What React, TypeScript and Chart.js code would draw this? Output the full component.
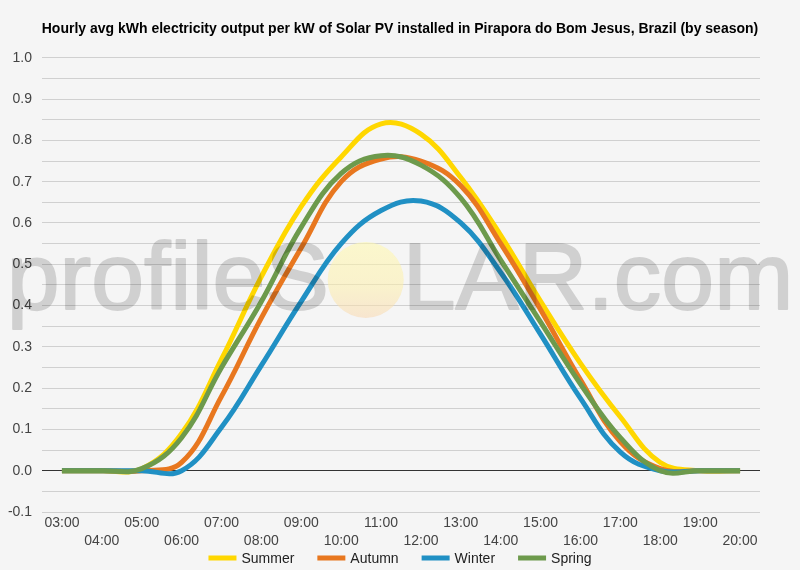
import React, { useEffect, useRef } from "react";
import { Chart, registerables } from "chart.js";

Chart.register(...registerables);

// Hour-of-day categories
const hours = [
  "03:00", "04:00", "05:00", "06:00", "07:00", "08:00", "09:00", "10:00", "11:00",
  "12:00", "13:00", "14:00", "15:00", "16:00", "17:00", "18:00", "19:00", "20:00",
];

// Average kWh output per kW installed, per season
const summer = [0, 0, 0.005, 0.09, 0.27, 0.47, 0.64, 0.76, 0.84, 0.815, 0.71, 0.57, 0.41, 0.26, 0.13, 0.02, 0, 0];
const autumn = [0, 0, 0, 0.02, 0.18, 0.37, 0.54, 0.70, 0.755, 0.75, 0.69, 0.55, 0.39, 0.22, 0.07, 0.005, 0, 0];
const winter = [0, 0, 0, 0, 0.105, 0.255, 0.41, 0.55, 0.63, 0.653, 0.60, 0.48, 0.33, 0.175, 0.045, 0, 0, 0];
const spring = [0, 0, 0.005, 0.08, 0.25, 0.41, 0.59, 0.72, 0.763, 0.74, 0.66, 0.51, 0.36, 0.21, 0.08, 0, 0, 0];

const seriesNames = ["Summer", "Autumn", "Winter", "Spring"];
const seriesColors = ["#FFD700", "#E8771F", "#2090C4", "#6D9A4C"];
const seriesData = [summer, autumn, winter, spring];

const titleText =
  "Hourly avg kWh electricity output per kW of Solar PV installed in Pirapora do Bom Jesus, Brazil (by season)";

const FONT = "Arial, 'Liberation Sans', sans-serif";

// Faint site watermark drawn across the plot, with a pale sun in place of the "O"
const watermarkPlugin = {
  id: "watermark",
  afterDatasetsDraw(chart: Chart) {
    const ctx = chart.ctx;
    const W = chart.width;
    const H = chart.height;
    const off = document.createElement("canvas");
    off.width = W;
    off.height = H;
    const o = off.getContext("2d");
    if (!o) return;
    const size = 95;
    o.font = `${size}px ${FONT}`;
    o.textBaseline = "alphabetic";
    const left = "profileS";
    const right = "LAR.com";
    const wl = o.measureText(left).width;
    const wo = o.measureText("O").width;
    const wr = o.measureText(right).width;
    const total = wl + wo + wr;
    const x0 = W / 2 - total / 2;
    const base = 309;
    o.fillStyle = "#000";
    o.strokeStyle = "#000";
    o.lineWidth = 2;
    o.lineJoin = "round";
    o.fillText(left, x0, base);
    o.strokeText(left, x0, base);
    o.fillText(right, x0 + wl + wo, base);
    o.strokeText(right, x0 + wl + wo, base);

    ctx.save();
    ctx.globalAlpha = 0.15;
    ctx.drawImage(off, 0, 0);
    ctx.restore();

    const cx = x0 + wl + wo / 2;
    const cy = base - 29;
    const r = 38;
    ctx.save();
    const g = ctx.createLinearGradient(0, cy - r, 0, cy + r);
    g.addColorStop(0, "rgba(255,248,170,0.55)");
    g.addColorStop(0.6, "rgba(252,238,170,0.55)");
    g.addColorStop(1, "rgba(248,215,175,0.55)");
    ctx.fillStyle = g;
    ctx.beginPath();
    ctx.arc(cx, cy, r, 0, Math.PI * 2);
    ctx.fill();
    ctx.restore();
  },
};

// Legend row under the axis: short thick swatch followed by the series name
const legendPlugin = {
  id: "bottomLegend",
  afterDraw(chart: Chart) {
    const ctx = chart.ctx;
    ctx.save();
    ctx.font = `14px ${FONT}`;
    ctx.textBaseline = "middle";
    const boxW = 28;
    const boxH = 5;
    const gapText = 5;
    const gapItem = 23;
    const items = chart.data.datasets.map((ds: any) => ({
      text: ds.label as string,
      color: ds.borderColor as string,
      w: boxW + gapText + ctx.measureText(ds.label).width,
    }));
    const total = items.reduce((s, it) => s + it.w, 0) + gapItem * (items.length - 1);
    let x = chart.width / 2 - total / 2;
    const y = 558;
    for (const it of items) {
      ctx.fillStyle = it.color;
      ctx.fillRect(x, y - boxH / 2, boxW, boxH);
      ctx.fillStyle = "#222";
      ctx.fillText(it.text, x + boxW + gapText, y + 1);
      x += it.w + gapItem;
    }
    ctx.restore();
  },
};

export default function App() {
  const canvasRef = useRef<HTMLCanvasElement | null>(null);

  useEffect(() => {
    const canvas = canvasRef.current;
    if (!canvas) return;
    const chart = new Chart(canvas, {
      type: "line",
      data: {
        labels: hours,
        datasets: seriesNames.map((name, i) => ({
          label: name,
          data: seriesData[i],
          borderColor: seriesColors[i],
          backgroundColor: seriesColors[i],
          borderWidth: 5,
          pointRadius: 0,
          tension: 0.4,
          fill: false,
          order: seriesNames.length - i,
        })),
      },
      options: {
        animation: false,
        responsive: false,
        maintainAspectRatio: false,
        layout: { padding: { left: 0, right: 0, top: 0, bottom: 12 } },
        plugins: {
          title: {
            display: true,
            text: titleText,
            color: "#000",
            font: { family: FONT, size: 14, weight: "bold" },
            padding: { top: 21, bottom: 20 },
          },
          legend: { display: false },
          tooltip: { enabled: false },
        },
        scales: {
          x: {
            offset: true,
            grid: { display: false, drawTicks: false },
            border: { display: false },
            ticks: {
              autoSkip: false,
              maxRotation: 0,
              minRotation: 0,
              padding: 2,
              color: "#444",
              font: { family: FONT, size: 14, lineHeight: 1.3 },
              callback: (_v: any, idx: number) =>
                idx % 2 === 0 ? [hours[idx], ""] : ["", hours[idx]],
            },
            afterFit: (scale: any) => {
              scale.height = 46;
            },
          },
          y: {
            min: -0.1,
            max: 1.0,
            border: { display: false },
            grid: {
              drawTicks: false,
              lineWidth: 1,
              color: (ctx: any) =>
                ctx.tick && Math.abs(ctx.tick.value) < 1e-9 ? "#333" : "#d0d0d0",
            },
            ticks: {
              stepSize: 0.05,
              padding: 10,
              color: "#444",
              font: { family: FONT, size: 14 },
              callback: (v: any) => {
                const n = Number(v) * 10;
                return Math.abs(n - Math.round(n)) < 1e-6 ? Number(v).toFixed(1) : "";
              },
            },
            afterFit: (scale: any) => {
              scale.width = 42;
            },
          },
          // empty right-hand gutter so the plot stops short of the canvas edge
          gutter: {
            type: "linear",
            position: "right",
            display: true,
            grid: { display: false, drawTicks: false },
            border: { display: false },
            ticks: { display: false },
            afterFit: (scale: any) => {
              scale.width = 40;
            },
          },
        },
      },
      plugins: [watermarkPlugin, legendPlugin],
    });
    return () => chart.destroy();
  }, []);

  return (
    <div
      style={{
        position: "fixed",
        left: 0,
        top: 0,
        width: 800,
        height: 570,
        background: "#f5f5f5",
      }}
    >
      <canvas ref={canvasRef} width={800} height={570} style={{ display: "block" }} />
    </div>
  );
}
